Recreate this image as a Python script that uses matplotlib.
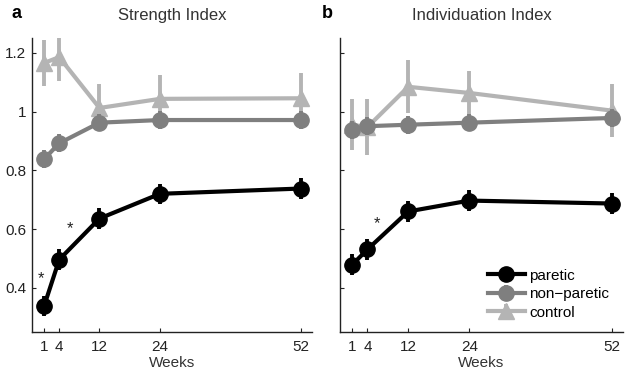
import matplotlib
matplotlib.use("Agg")
import matplotlib.pyplot as plt
import numpy as np

plt.rcParams['font.family'] = ['Liberation Sans', 'DejaVu Sans']

weeks = [1, 4, 12, 24, 52]
xtick_labels = ["1", "4", "12", "24", "52"]
yticks = [0.4, 0.6, 0.8, 1.0, 1.2]
ytick_labels = ["0.4", "0.6", "0.8", "1", "1.2"]

# Strength index
str_paretic = [0.338, 0.496, 0.636, 0.720, 0.738]
str_paretic_err = [0.035, 0.035, 0.035, 0.035, 0.035]
str_nonparetic = [0.838, 0.892, 0.962, 0.971, 0.971]
str_nonparetic_err = [0.03, 0.03, 0.03, 0.03, 0.03]
str_control = [1.165, 1.185, 1.012, 1.043, 1.045]
str_control_err = [0.078, 0.08, 0.08, 0.08, 0.085]

# Individuation index
ind_paretic = [0.479, 0.531, 0.660, 0.697, 0.687]
ind_paretic_err = [0.035, 0.035, 0.035, 0.035, 0.035]
ind_nonparetic = [0.937, 0.950, 0.955, 0.962, 0.978]
ind_nonparetic_err = [0.03, 0.03, 0.03, 0.03, 0.03]
ind_control = [0.955, 0.947, 1.084, 1.063, 1.003]
ind_control_err = [0.087, 0.095, 0.09, 0.075, 0.09]

# significance stars (x in weeks, y in index units)
str_stars_x = [0.4, 6.1]
str_stars_y = [0.43, 0.60]
ind_stars_x = [5.9]
ind_stars_y = [0.62]

c_par = "#000000"
c_non = "#7f7f7f"
c_con = "#b4b4b4"

fig = plt.figure(figsize=(6.35, 3.73), dpi=100)
axA = fig.add_axes([32/635, 41/373, 280/635, 294/373])
axB = fig.add_axes([340/635, 41/373, 283/635, 294/373])

def draw(ax, par, pe, non, ne, con, ce, sx, sy):
    kw = dict(lw=3.0, elinewidth=2.8, capsize=0)
    ax.errorbar(weeks, con, yerr=ce, color=c_con, marker='^', ms=12, label="control", zorder=2, **kw)
    ax.errorbar(weeks, non, yerr=ne, color=c_non, marker='o', ms=11, label="non\u2212paretic", zorder=3, **kw)
    ax.errorbar(weeks, par, yerr=pe, color=c_par, marker='o', ms=11, label="paretic", zorder=4, **kw)
    for x, y in zip(sx, sy):
        ax.text(x, y, "*", ha='center', va='center', fontsize=12, color='#222222')
    ax.set_xlim(-1.4, 54.2)
    ax.set_ylim(0.25, 1.25)
    ax.set_xticks(weeks)
    ax.set_xticklabels(xtick_labels)
    ax.set_yticks(yticks)
    for s in ['top', 'right']:
        ax.spines[s].set_visible(False)
    for s in ['left', 'bottom']:
        ax.spines[s].set_color('#222222')
        ax.spines[s].set_linewidth(1.0)
    ax.tick_params(axis='x', direction='in', length=3, labelsize=11, colors='#222222', pad=6)
    ax.tick_params(axis='y', direction='in', length=3, labelsize=11, colors='#222222', pad=4)
    ax.set_xlabel("Weeks", fontsize=11, color='#333333', labelpad=1)

draw(axA, str_paretic, str_paretic_err, str_nonparetic, str_nonparetic_err,
     str_control, str_control_err, str_stars_x, str_stars_y)
axA.set_yticklabels(ytick_labels)
draw(axB, ind_paretic, ind_paretic_err, ind_nonparetic, ind_nonparetic_err,
     ind_control, ind_control_err, ind_stars_x, ind_stars_y)
axB.set_yticklabels([])

axA.set_title("Strength Index", fontsize=12, color='#333333', pad=13)
axB.set_title("Individuation Index", fontsize=12, color='#333333', pad=13)
fig.text(12/635, 1 - 14/373, "a", fontsize=13, fontweight='bold', va='center')
fig.text(322/635, 1 - 14/373, "b", fontsize=13, fontweight='bold', va='center')

h, l = axB.get_legend_handles_labels()
order = [2, 1, 0]
axB.legend([h[i] for i in order], [l[i] for i in order], loc='lower right',
           bbox_to_anchor=(1.0, -0.005), frameon=False, fontsize=11,
           handlelength=2.4, handletextpad=0.3, labelspacing=0.3)

fig.savefig("out.png", dpi=100)
